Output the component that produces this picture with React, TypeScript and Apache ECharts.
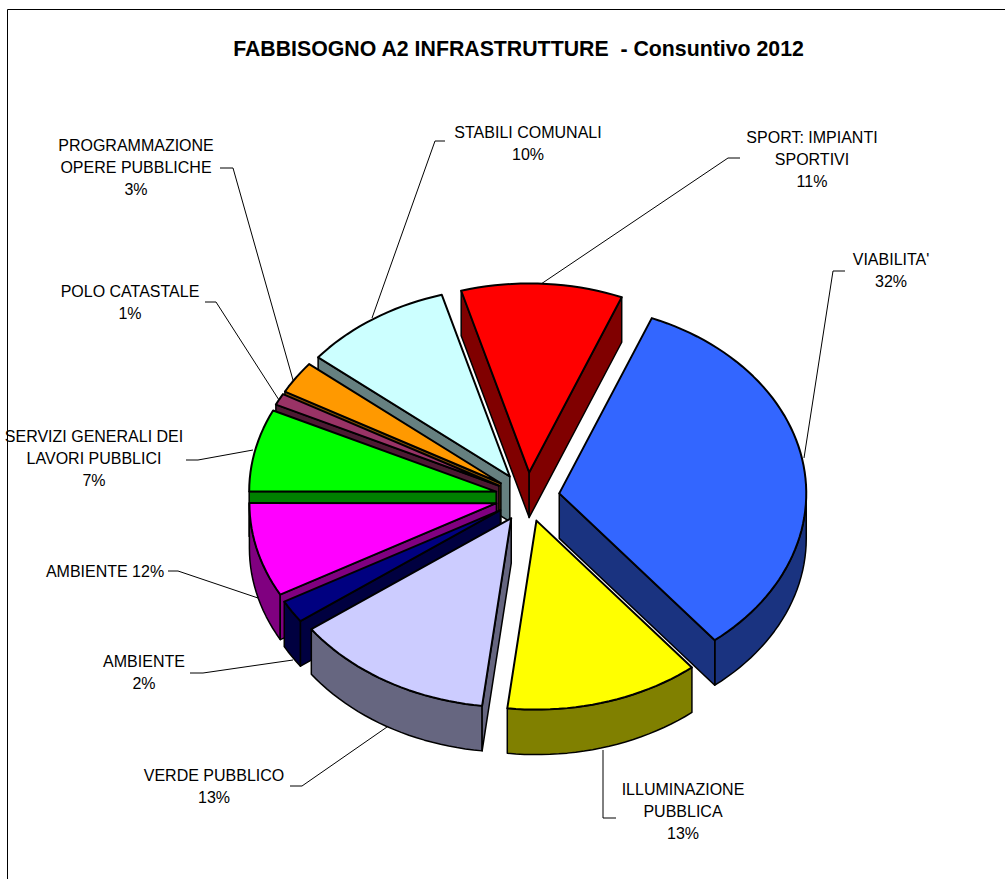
import React, { useEffect, useRef } from "react";
import * as echarts from "echarts";

const titleText = "FABBISOGNO A2 INFRASTRUTTURE  - Consuntivo 2012";
const categories = ["VIABILITA'", "ILLUMINAZIONE PUBBLICA", "VERDE PUBBLICO", "AMBIENTE", "AMBIENTE", "SERVIZI GENERALI DEI LAVORI PUBBLICI", "POLO CATASTALE", "PROGRAMMAZIONE OPERE PUBBLICHE", "STABILI COMUNALI", "SPORT: IMPIANTI SPORTIVI"];
const sliceShares = [33.05, 12.72, 13.13, 1.95, 8.05, 7.05, 1.0, 2.8, 9.7, 10.55];
const topColors = ["#3366FF", "#FFFF00", "#CCCCFF", "#000080", "#FF00FF", "#00FF00", "#993366", "#FF9900", "#CCFFFF", "#FF0000"];
const sideColors = ["#1A3380", "#808000", "#666680", "#000040", "#800080", "#008000", "#4D1A33", "#804D00", "#668080", "#800000"];

const labelLines = [
  ["VIABILITA'", "32%"],
  ["ILLUMINAZIONE", "PUBBLICA", "13%"],
  ["VERDE PUBBLICO", "13%"],
  ["AMBIENTE", "2%"],
  ["AMBIENTE 12%"],
  ["SERVIZI GENERALI DEI", "LAVORI PUBBLICI", "7%"],
  ["POLO CATASTALE", "1%"],
  ["PROGRAMMAZIONE", "OPERE PUBBLICHE", "3%"],
  ["STABILI COMUNALI", "10%"],
  ["SPORT: IMPIANTI", "SPORTIVI", "11%"],
];
const labelAnchors = [
  [891, 259], [683, 789], [214, 775], [144, 661], [105, 571],
  [94, 436], [130, 291], [136, 145], [528, 132], [812, 137],
];
const leaderPaths = [
  [[845, 271], [833, 271], [804, 458]],
  [[616, 818], [603, 818], [603, 750]],
  [[290, 786], [302, 786], [387, 727]],
  [[190, 673], [203, 673], [293, 660]],
  [[168, 571], [178, 571], [258, 598]],
  [[186, 460], [198, 460], [253, 450]],
  [[205, 302], [216, 302], [279, 400]],
  [[220, 168], [233, 168], [293, 380]],
  [[445, 141], [435, 141], [372, 318]],
  [[740, 158], [728, 158], [541, 284]],
];

const CX = 527.5, CY = 497, RX = 247, RY = 189, DEPTH = 45, EXPLODE = 0.13, START = -68;
const LINE_H = 22.4;
const rad = (d: number) => (d * Math.PI) / 180;

const total = sliceShares.reduce((a, b) => a + b, 0);
const spans = (() => {
  let acc = START;
  return sliceShares.map((v) => {
    const a = acc;
    acc += (v / total) * 360;
    return [a, acc];
  });
})();
const drawOrder = sliceShares
  .map((_, i) => i)
  .sort((p, q) => Math.sin(rad((spans[p][0] + spans[p][1]) / 2)) - Math.sin(rad((spans[q][0] + spans[q][1]) / 2)));

function renderSlice(params: any, api: any) {
  const i = api.value(0) as number;
  const [a, b] = spans[i];
  const mid = (a + b) / 2;
  const ax = CX + EXPLODE * RX * Math.cos(rad(mid));
  const ay = CY + EXPLODE * RY * Math.sin(rad(mid));
  const rim = (t: number) => [ax + RX * Math.cos(rad(t)), ay + RY * Math.sin(rad(t))];
  const arc = (s: number, e: number) => {
    const pts: number[][] = [];
    const n = Math.max(2, Math.ceil((e - s) / 2));
    for (let k = 0; k <= n; k++) pts.push(rim(s + ((e - s) * k) / n));
    return pts;
  };
  const down = (p: number[]) => [p[0], p[1] + DEPTH];
  const side = sideColors[i];
  const children: any[] = [];
  const wall = (points: number[][]) =>
    children.push({ type: "polygon", shape: { points }, style: { fill: side, stroke: "#000", lineWidth: 1.5, lineJoin: "round" } });
  const rs = Math.max(a, 0);
  const re = Math.min(b, 180);
  if (re > rs) {
    const top = arc(rs, re);
    wall([...top, ...top.slice().reverse().map(down)]);
  }
  const apex = [ax, ay];
  if (Math.cos(rad(a)) < 0) {
    const p = rim(a);
    wall([apex, p, down(p), down(apex)]);
  }
  if (Math.cos(rad(b)) > 0) {
    const p = rim(b);
    wall([apex, p, down(p), down(apex)]);
  }
  children.push({
    type: "polygon",
    shape: { points: [apex, ...arc(a, b)] },
    style: { fill: topColors[i], stroke: "#000", lineWidth: 2, lineJoin: "round" },
  });
  return { type: "group", children };
}

export default function App() {
  const ref = useRef<HTMLDivElement>(null);
  useEffect(() => {
    document.body.style.margin = "0";
    const chart = echarts.init(ref.current!, null, { renderer: "svg" });
    const font = "'Liberation Sans', Arial, sans-serif";
    const frame = [
      { type: "polyline", shape: { points: [[7.5, 879], [7.5, 9.5], [1005, 9.5]] }, style: { fill: "none", stroke: "#000", lineWidth: 1 } },
    ];
    const leaders = leaderPaths.map((points) => ({
      type: "polyline",
      shape: { points },
      style: { fill: "none", stroke: "#000", lineWidth: 1 },
    }));
    const texts: any[] = [];
    labelLines.forEach((lines, i) => {
      lines.forEach((line, k) => {
        texts.push({
          type: "text",
          x: labelAnchors[i][0],
          y: labelAnchors[i][1] + k * LINE_H,
          style: { text: line, fill: "#000", font: `16px ${font}`, textAlign: "center", textVerticalAlign: "middle" },
        });
      });
    });
    chart.setOption({
      animation: false,
      backgroundColor: "#fff",
      title: {
        text: titleText,
        left: 513.5,
        top: 33,
        textAlign: "center",
        textStyle: { fontFamily: font, fontWeight: "bold", fontSize: 21.3, color: "#000" },
      },
      graphic: { elements: [...frame, ...leaders, ...texts] },
      series: [
        {
          type: "custom",
          coordinateSystem: "none",
          name: "Fabbisogno",
          renderItem: renderSlice,
          silent: true,
          z: 5,
          data: drawOrder.map((i) => ({ name: categories[i], value: [i, sliceShares[i]] })),
        },
      ],
    });
    return () => chart.dispose();
  }, []);
  return <div ref={ref} style={{ position: "absolute", left: 0, top: 0, width: 1005, height: 879 }} />;
}
